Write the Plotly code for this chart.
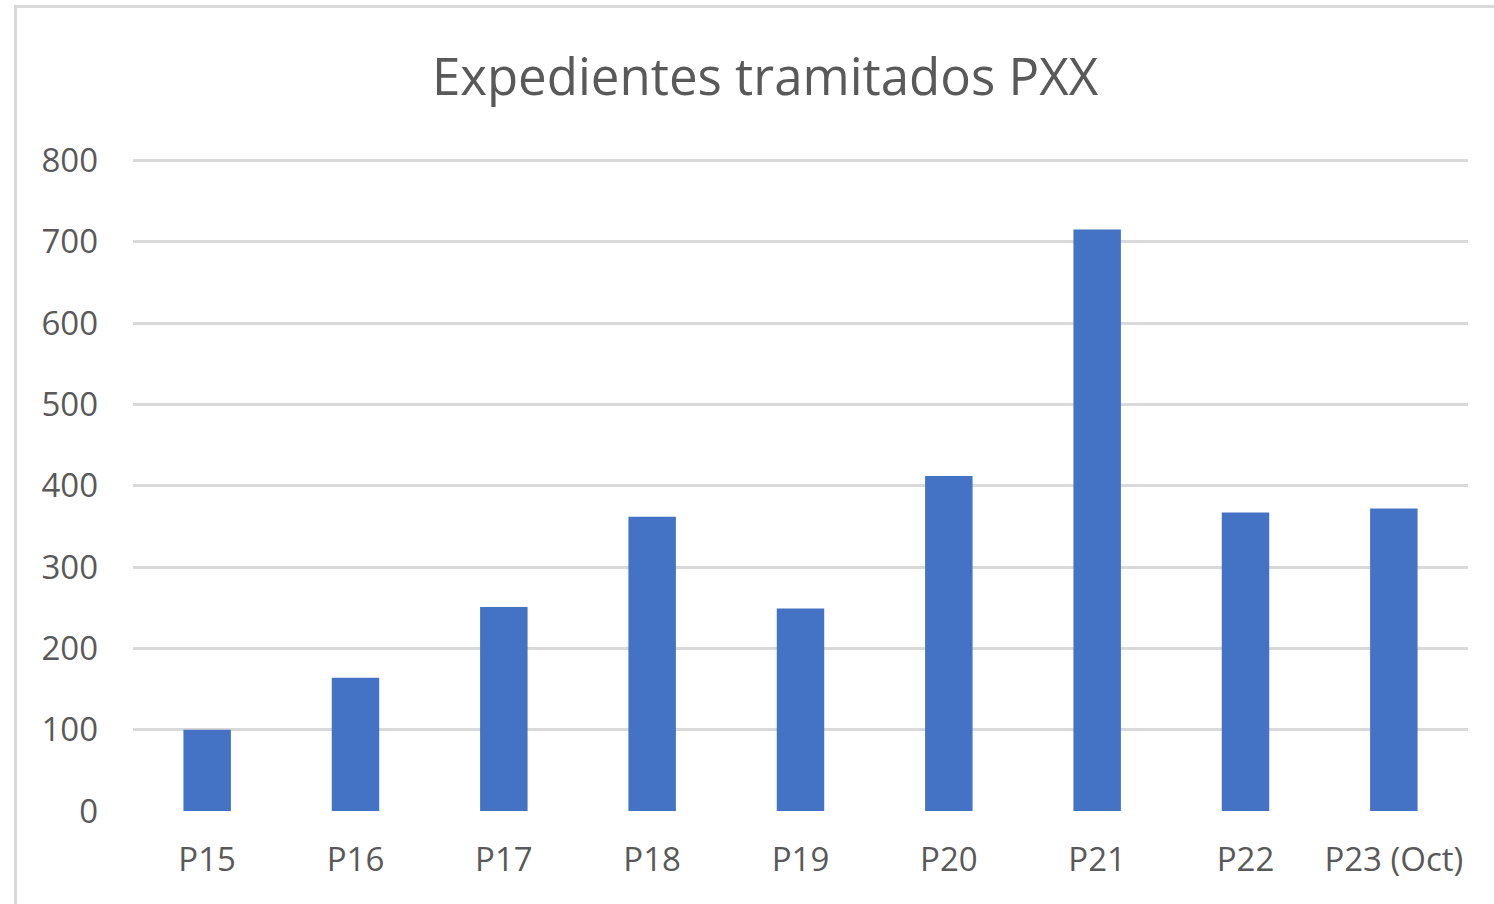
import plotly.graph_objects as go

categories = ["P15", "P16", "P17", "P18", "P19", "P20", "P21", "P22", "P23 (Oct)"]
values = [100, 164, 251, 362, 249, 412, 715, 367, 372]
y_ticks = [0, 100, 200, 300, 400, 500, 600, 700, 800]

W, H = 1494, 904
L, R, T, B = 133, 26, 154, 93
pw = W - L - R
ph = H - T - B

fig = go.Figure(go.Bar(x=categories, y=values, marker=dict(color="#4472C4", line=dict(width=0)),
                       width=0.32))

fig.update_layout(
    width=W, height=H,
    margin=dict(l=L, r=R, t=T, b=B, pad=0),
    paper_bgcolor="white", plot_bgcolor="white",
    title=dict(text="Expedientes tramitados PXX", x=(765 - L) / pw, xref="paper",
               y=1 - 77 / H, yanchor="middle", xanchor="center",
               font=dict(family="Open Sans", size=51, color="#595959")),
    showlegend=False,
    font=dict(family="Open Sans", color="#595959"),
)
fig.update_yaxes(range=[0, 808], tickvals=y_ticks, showgrid=True, gridcolor="#d9d9d9", gridwidth=2.5,
                 zeroline=False, showline=False, ticks="", ticklabelstandoff=34,
                 tickfont=dict(family="Open Sans", size=33, color="#595959"))
fig.update_xaxes(showgrid=False, showline=False, ticks="", ticklabelstandoff=26,
                 tickfont=dict(family="Open Sans", size=33, color="#595959"))

fig.add_shape(type="rect", xref="paper", yref="paper",
              x0=(15.5 - L) / pw, x1=2, y0=-1, y1=(H - B - 6.5) / ph,
              line=dict(color="#d9d9d9", width=3), fillcolor="rgba(0,0,0,0)", layer="below")

fig.write_html("out.html", config={"displayModeBar": False},
               post_script="document.body.style.margin='0';document.body.style.padding='0';")
